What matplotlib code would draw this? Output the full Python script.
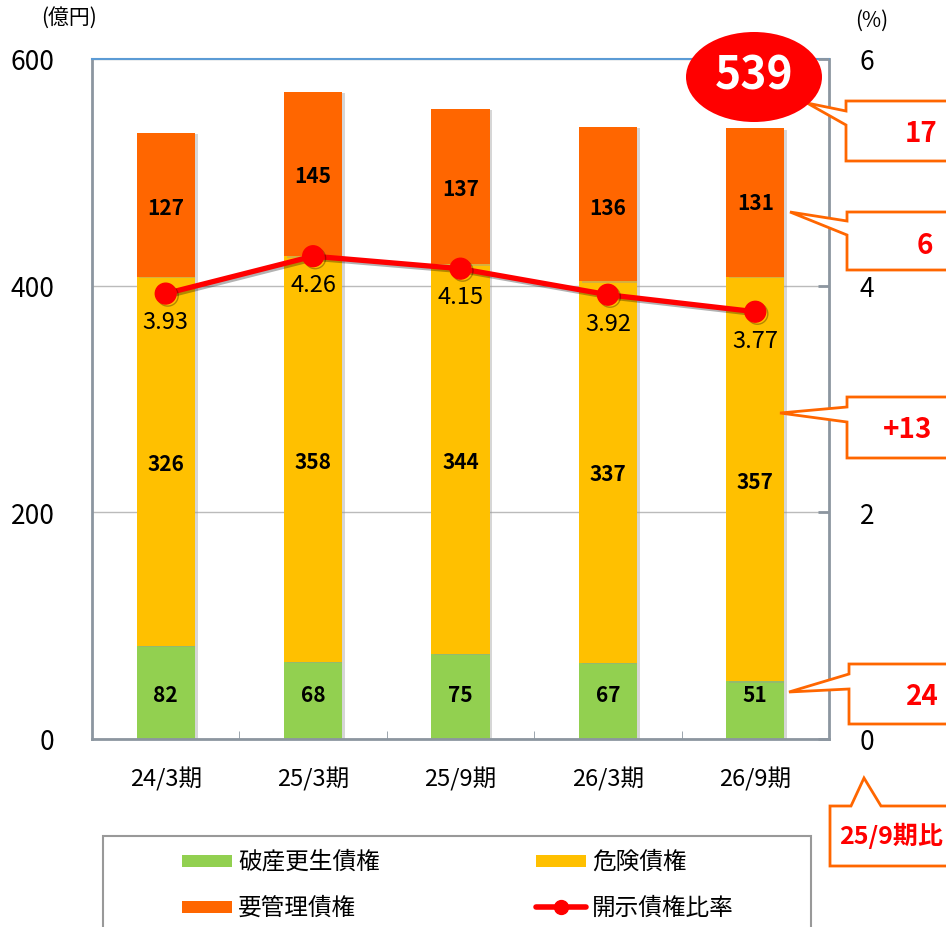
import matplotlib.pyplot as plt
import matplotlib.patheffects as pe
from matplotlib.patches import Polygon, Ellipse, Rectangle
from matplotlib.lines import Line2D
import numpy as np

plt.rcParams['font.family'] = ['Noto Sans CJK JP', 'DejaVu Sans']

# データ
periods = ["24/3期", "25/3期", "25/9期", "26/3期", "26/9期"]
hasan = [82, 68, 75, 67, 51]          # 破産更生債権
kiken = [326, 358, 344, 337, 357]     # 危険債権
youkanri = [127, 145, 137, 136, 131]  # 要管理債権
ratio = [3.93, 4.26, 4.15, 3.92, 3.77]  # 開示債権比率(%)
total_label = "539"
diff_labels = ["17", "6", "+13", "24"]

# ラベル位置の微調整 (億円)
kiken_lab_y = [243, 245, 245, 234, 227]
youkanri_lab_y = [469, 497, 486, 469, 473]

GREEN = "#92D050"
YELLOW = "#FFC000"
ORANGE = "#FF6600"
RED = "#FF0000"
SPINE = "#8C96A0"

W, H = 946, 928
fig = plt.figure(figsize=(W / 100, H / 100), dpi=100)
ax = fig.add_axes([92 / W, 1 - 740 / H, (829 - 92) / W, (740 - 60) / H])

x = np.arange(len(periods))
bw = 0.395
shadow = [pe.SimplePatchShadow(offset=(2, -1), shadow_rgbFace="#999999", alpha=0.4), pe.Normal()]
ax.bar(x, hasan, bw, color=GREEN, zorder=2, path_effects=shadow)
ax.bar(x, kiken, bw, bottom=hasan, color=YELLOW, zorder=2, path_effects=shadow)
bot3 = np.array(hasan) + np.array(kiken)
ax.bar(x, youkanri, bw, bottom=bot3, color=ORANGE, zorder=2, path_effects=shadow)

lab = dict(ha="center", va="center", fontsize=15, fontweight="bold", color="black", zorder=5)
for i in x:
    ax.text(i, 39, str(hasan[i]), **lab)
    ax.text(i, kiken_lab_y[i], str(kiken[i]), **lab)
    ax.text(i, youkanri_lab_y[i], str(youkanri[i]), **lab)

ax.set_xlim(-0.5, 4.5)
ax.set_ylim(0, 600)
ax.set_yticks([0, 200, 400, 600])
ax.set_xticks(x)
ax.set_xticklabels(periods, fontsize=17)
ax.tick_params(axis="x", length=0, pad=20)
ax.set_xticks(np.arange(0.5, 4.5, 1), minor=True)
ax.tick_params(axis="x", which="minor", direction="in", length=6, color=SPINE)
ax.tick_params(axis="y", labelsize=19, length=0, pad=27)
ax.grid(axis="y", color="#BBBBBB", linewidth=1, zorder=0)
ax.set_axisbelow(True)
for s in ["left", "bottom", "right"]:
    ax.spines[s].set_color(SPINE)
    ax.spines[s].set_linewidth(2)
ax.spines["top"].set_color("#5B9BD5")
ax.spines["top"].set_linewidth(1.5)

ax2 = ax.twinx()
ax2.set_ylim(0, 6)
ax2.set_yticks([0, 2, 4, 6])
ax2.tick_params(axis="y", labelsize=19, direction="in", length=8, width=2, color=SPINE, pad=22)
for s in ax2.spines.values():
    s.set_visible(False)
ax2.plot(x, ratio, color=RED, linewidth=3.8, marker="o", markersize=15,
         markerfacecolor=RED, markeredgecolor=RED, zorder=4,
         path_effects=[pe.SimpleLineShadow(offset=(1.5, -1.5), alpha=0.3), pe.Normal()])
for i in x:
    ax2.text(i, ratio[i] - 0.25, f"{ratio[i]:.2f}",
             ha="center", va="center", fontsize=17, color="black", zorder=5)

fig.text(69 / W, 1 - 18 / H, "(億円)", ha="center", va="center", fontsize=15)
fig.text(872 / W, 1 - 21 / H, "(%)", ha="center", va="center", fontsize=15)

# 吹き出し
def px(pts):
    return [(a / W, 1 - b / H) for a, b in pts]

def callout(left, top, bot, w1, w2, tip, txt, tx, ty):
    pts = [(left, top), (W + 20, top), (W + 20, bot), (left, bot), (left, w2), tip, (left, w1)]
    fig.add_artist(Polygon(px(pts), closed=True, transform=fig.transFigure,
                           facecolor="white", edgecolor=ORANGE, linewidth=2, zorder=10))
    fig.text(tx / W, 1 - ty / H, txt, ha="center", va="center", fontsize=20,
             fontweight="bold", color=RED, zorder=11)

callout(846, 102, 162, 112, 126, (807, 104), diff_labels[0], 921, 134)
callout(847, 213, 271, 222, 236, (790, 213), diff_labels[1], 925, 246)
callout(847, 398, 459, 408, 423, (780, 414), diff_labels[2], 908, 430)
callout(849, 665, 725, 675, 690, (789, 693), diff_labels[3], 922, 697)

pts = [(830, 807), (851, 807), (864, 779), (881, 807), (W + 20, 807), (W + 20, 867), (830, 867)]
fig.add_artist(Polygon(px(pts), closed=True, transform=fig.transFigure,
                       facecolor="white", edgecolor=ORANGE, linewidth=2, zorder=10))
fig.text(839 / W, 1 - 836 / H, "25/9期比", ha="left", va="center", fontsize=18,
         fontweight="bold", color=RED, zorder=11)

fig.add_artist(Ellipse((754 / W, 1 - 78 / H), 136 / W, 90 / H, transform=fig.transFigure,
                       facecolor=RED, edgecolor="none", zorder=10))
fig.text(754 / W, 1 - 77 / H, total_label, ha="center", va="center", fontsize=32,
         fontweight="bold", color="white", zorder=11)

# 凡例
fig.add_artist(Rectangle((103 / W, 1 - 950 / H), (811 - 103) / W, (950 - 837) / H,
                         transform=fig.transFigure, facecolor="white",
                         edgecolor="#999999", linewidth=1.5))
items = [
    (182, 862, GREEN, "破産更生債権", "patch"),
    (536, 862, YELLOW, "危険債権", "patch"),
    (182, 908, ORANGE, "要管理債権", "patch"),
    (536, 908, RED, "開示債権比率", "line"),
]
for lx, ly, c, t, kind in items:
    if kind == "patch":
        fig.add_artist(Rectangle((lx / W, 1 - (ly + 6) / H), 50 / W, 12 / H,
                                 transform=fig.transFigure, facecolor=c, edgecolor="none"))
    else:
        fig.add_artist(Line2D([lx / W, (lx + 50) / W], [1 - ly / H, 1 - ly / H],
                              transform=fig.transFigure, color=c, linewidth=4,
                              solid_capstyle="round"))
        fig.add_artist(Line2D([(lx + 25) / W], [1 - ly / H], transform=fig.transFigure,
                              color=c, marker="o", markersize=10, linestyle="none"))
    fig.text((lx + 56) / W, 1 - ly / H, t, ha="left", va="center", fontsize=17)

fig.savefig("out.png", dpi=100)
